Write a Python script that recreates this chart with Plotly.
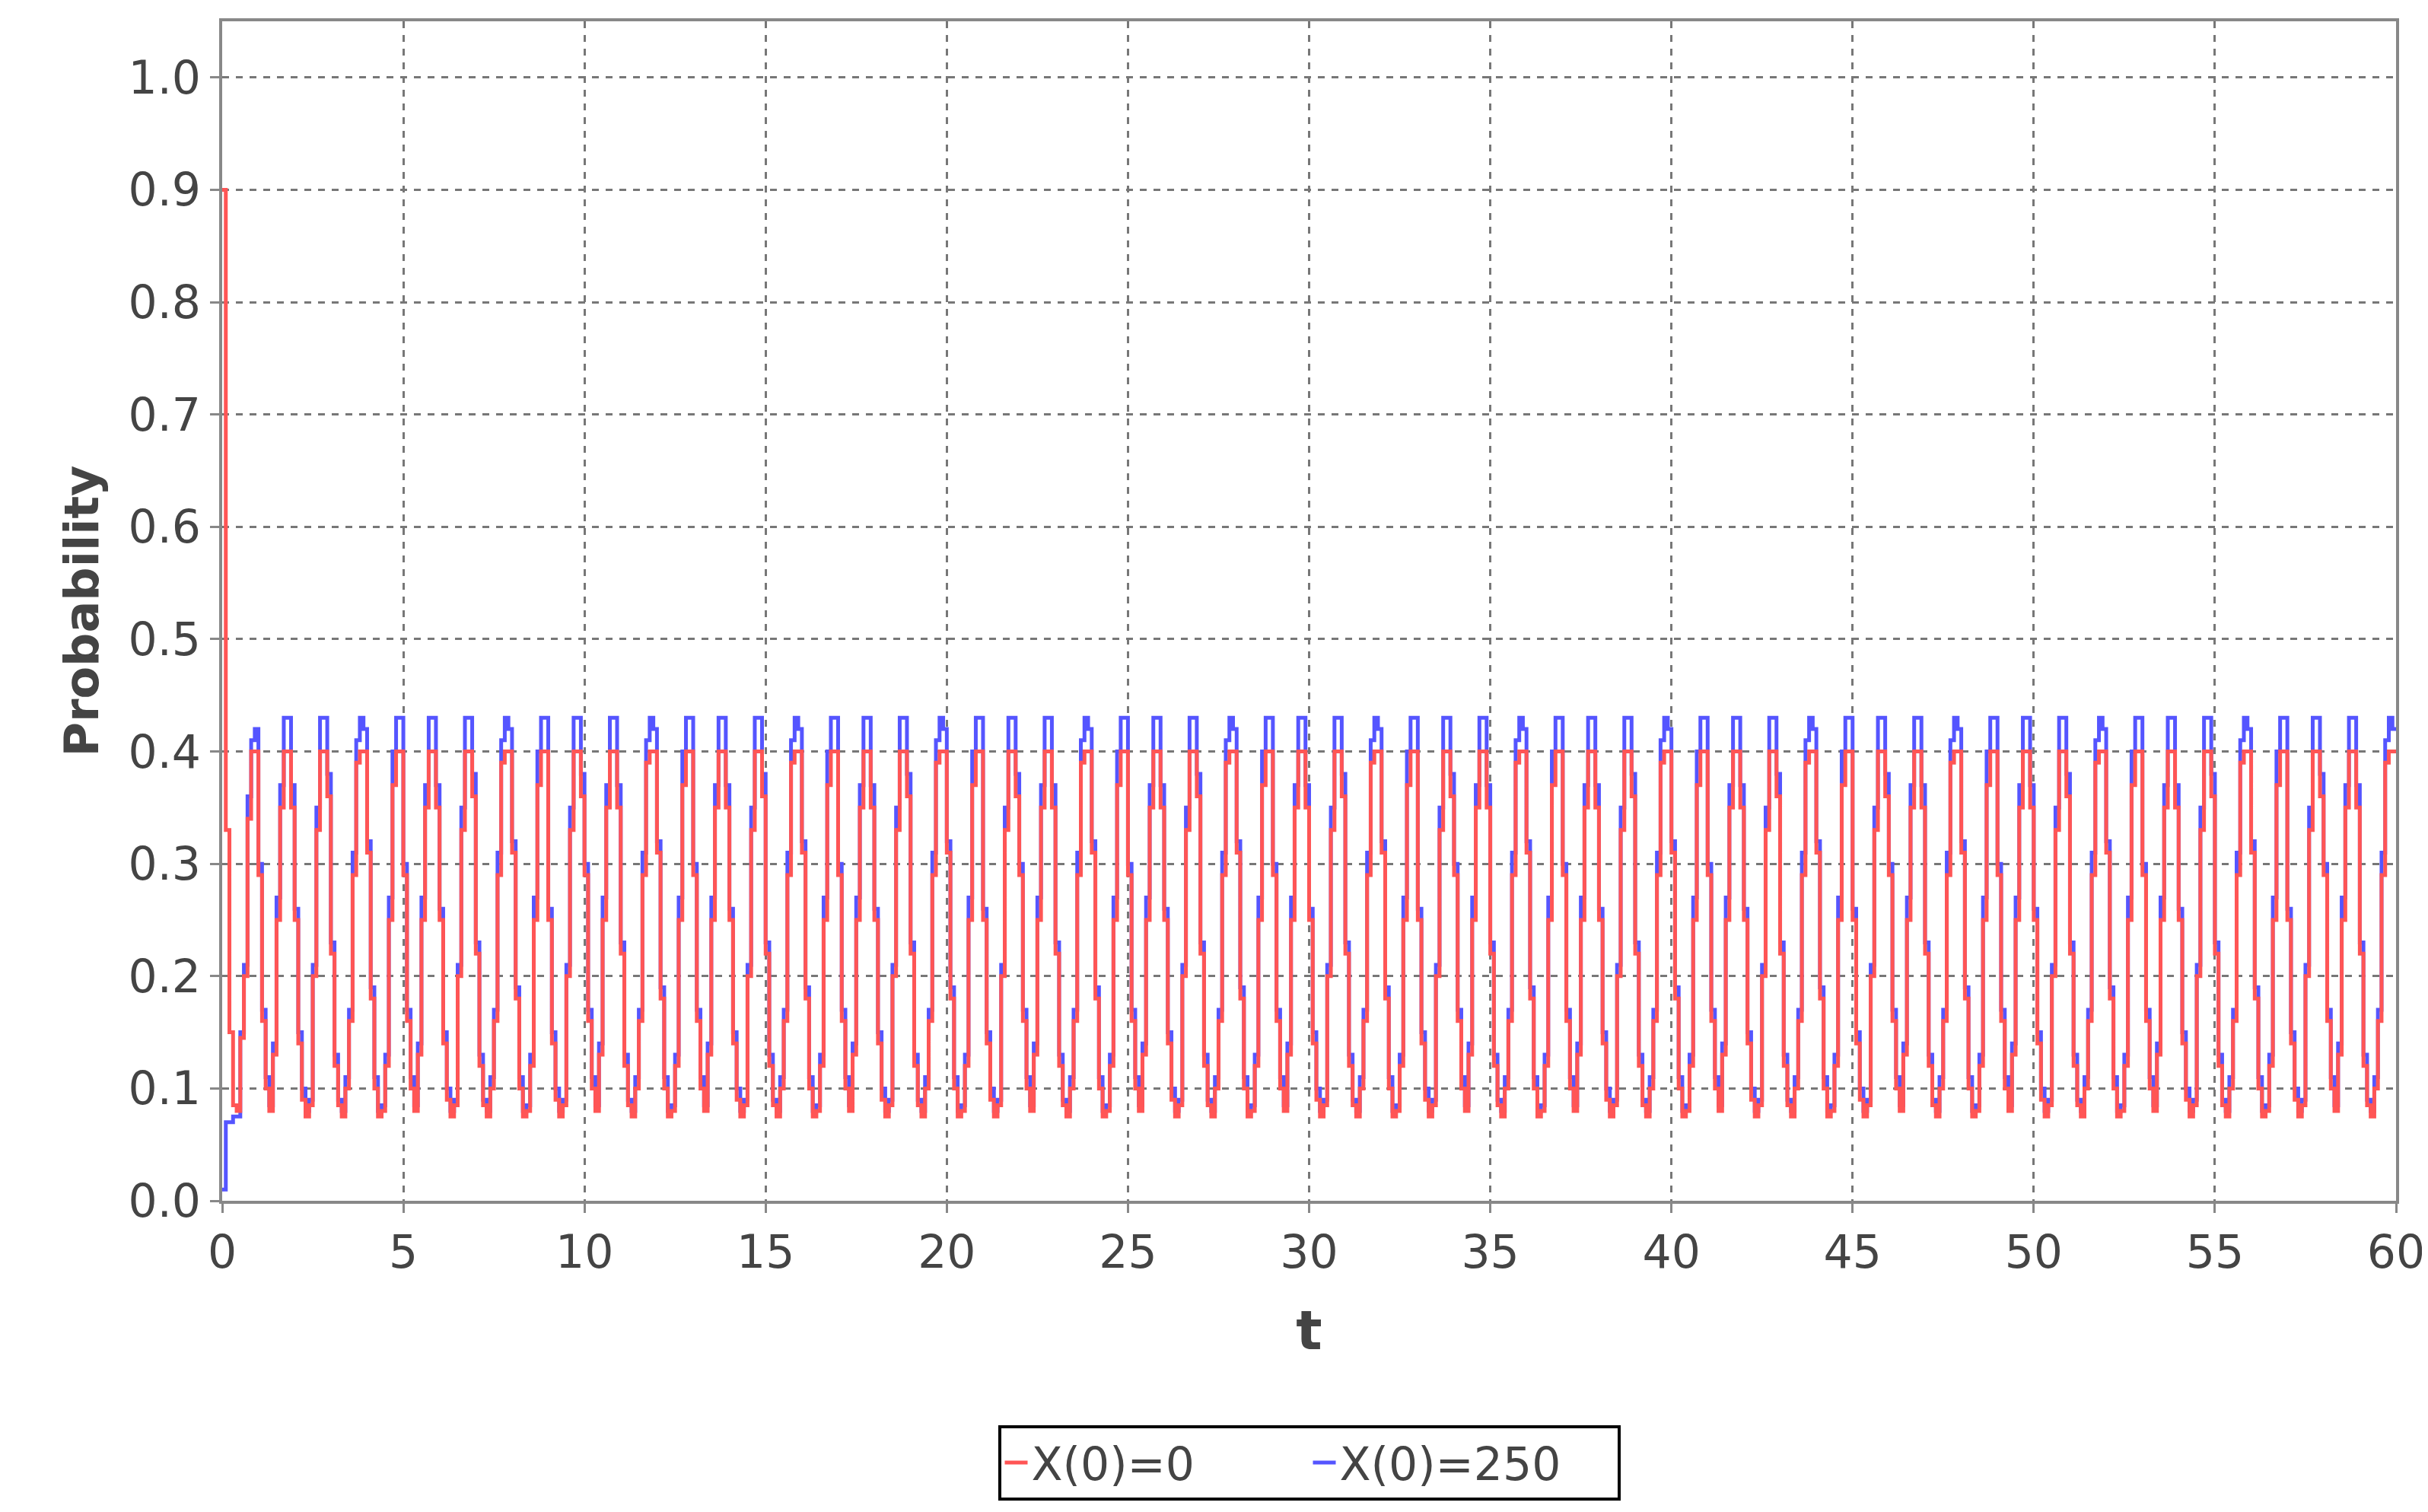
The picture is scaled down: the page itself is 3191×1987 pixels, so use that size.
import numpy as np
import plotly.graph_objects as go

# Initial transient (t = 0 .. 1, step 0.1)
red_start = [0.90, 0.33, 0.15, 0.085, 0.08, 0.145, 0.20, 0.34, 0.40, 0.40]
blue_start = [0.01, 0.07, 0.07, 0.075, 0.075, 0.15, 0.21, 0.36, 0.41, 0.42]

# Per-cycle step shapes (10 steps per unit time)
red_cycles = {
    "A": [0.29, 0.16, 0.10, 0.08, 0.13, 0.25, 0.35, 0.40, 0.40, 0.35],
    "B": [0.22, 0.12, 0.085, 0.075, 0.10, 0.16, 0.29, 0.39, 0.40, 0.40],
    "C": [0.25, 0.14, 0.09, 0.075, 0.085, 0.20, 0.33, 0.40, 0.40, 0.36],
    "D": [0.31, 0.18, 0.10, 0.075, 0.08, 0.12, 0.25, 0.37, 0.40, 0.40],
}
blue_cycles = {
    "A": [0.30, 0.17, 0.11, 0.085, 0.14, 0.27, 0.37, 0.43, 0.43, 0.37],
    "B": [0.23, 0.13, 0.09, 0.08, 0.11, 0.17, 0.31, 0.41, 0.43, 0.42],
    "C": [0.26, 0.15, 0.10, 0.08, 0.09, 0.21, 0.35, 0.43, 0.43, 0.38],
    "D": [0.32, 0.19, 0.11, 0.08, 0.085, 0.13, 0.27, 0.40, 0.43, 0.43],
}
cycle_order = list("ACBDACBDCABDACBDACBDCABDACBDACBDCABDACBDACBDCABDACBDACBDCAB")

red = list(red_start)
blue = list(blue_start)
for c in cycle_order:
    red += red_cycles[c]
    blue += blue_cycles[c]
red.append(red[-1]); blue.append(blue[-1])
t = np.round(np.arange(len(red)) * 0.1, 2)

fig = go.Figure()
fig.add_trace(go.Scatter(x=t, y=blue, mode="lines", line_shape="hv",
                         line=dict(color="#5555FF", width=5), name="X(0)=250"))
fig.add_trace(go.Scatter(x=t, y=red, mode="lines", line_shape="hv",
                         line=dict(color="#FF5555", width=5), name="X(0)=0"))

tickfont = dict(family="DejaVu Sans", size=60, color="#444444")
fig.update_layout(
    width=3191, height=1987, plot_bgcolor="white", paper_bgcolor="white",
    margin=dict(l=284, r=46, t=20, b=417),
    legend=dict(orientation="h", x=0.5, xanchor="center", y=-0.19, yanchor="top",
                bordercolor="black", borderwidth=4, entrywidth=360,
                font=dict(family="DejaVu Sans", size=60, color="#444444"),
                traceorder="reversed"),
    xaxis=dict(range=[0, 60], tickvals=list(range(0, 61, 5)), tickfont=tickfont,
               showgrid=True, gridcolor="#777777", griddash="dash", gridwidth=3,
               showline=True, linecolor="#888888", linewidth=4, mirror=True,
               ticks="outside", tickcolor="#888888", ticklen=12, tickwidth=3,
               title=dict(text="<b>t</b>", font=dict(family="DejaVu Sans", size=72, color="#444444"), standoff=45)),
    yaxis=dict(range=[0, 1.05], tickvals=[i / 10 for i in range(11)], tickformat=".1f", tickfont=tickfont,
               showgrid=True, gridcolor="#777777", griddash="dash", gridwidth=3,
               showline=True, linecolor="#888888", linewidth=4, mirror=True, zeroline=False,
               ticks="outside", tickcolor="#888888", ticklen=12, tickwidth=3,
               title=dict(text="<b>Probability</b>", font=dict(family="DejaVu Sans", size=62, color="#444444"), standoff=20)),
)
fig.write_html("out.html")
